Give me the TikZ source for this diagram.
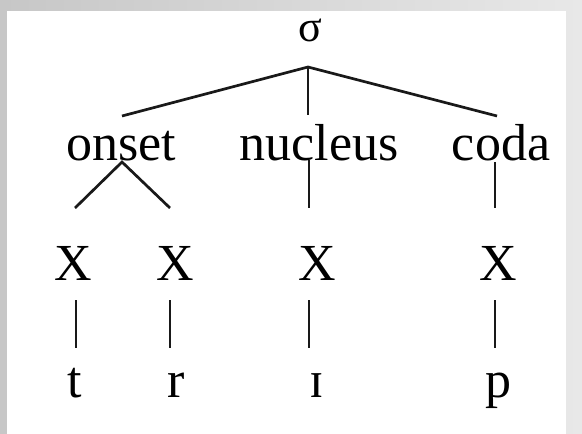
\documentclass[tikz,border=0pt]{standalone}
\usepackage{fontspec}
\newfontfamily\tms{Liberation Serif}
\begin{document}
\begin{tikzpicture}[x=1pt,y=-1pt,
  lbl/.style={anchor=base,inner sep=0pt,font=\tms\fontsize{52}{60}\selectfont},
  edge/.style={line width=2.7pt,draw=black!90}]
\useasboundingbox (0,0) rectangle (582,434);
\shade[left color=black!22,right color=black!9] (0,0) rectangle (582,434);
\fill[white] (7,11) rectangle (566,434);
% nodes
\node[lbl,font=\tms\fontsize{44}{50}\selectfont] (sig) at (310,41) {σ};
\node[lbl] (onset) at (121,160) {onset};
\node[lbl] (nucleus) at (319,160) {nucleus};
\node[lbl] (coda) at (501,160) {coda};
\node[lbl] (x1) at (73,280) {X};
\node[lbl] (x2) at (175,280) {X};
\node[lbl] (x3) at (317,280) {X};
\node[lbl] (x4) at (498,280) {X};
\node[lbl] (t) at (75,397) {t};
\node[lbl] (r) at (176,397) {r};
\node[lbl] (i) at (317,397) {ɪ};
\node[lbl] (p) at (498,397) {p};
% connector endpoints
\coordinate (top) at (308,67);
\coordinate (onsetT) at (122,116);
\coordinate (nucT) at (308,115);
\coordinate (codaT) at (497,116);
\coordinate (apex) at (122,162);
\coordinate (o1) at (75,208);
\coordinate (o2) at (170,208);
\coordinate (nucB) at (309,160);
\coordinate (nucE) at (309,208);
\coordinate (codaB) at (495,162);
\coordinate (codaE) at (495,208);
\foreach \n/\xx in {a/76,b/170,c/309,d/495}{
  \coordinate (\n1) at (\xx,300);
  \coordinate (\n2) at (\xx,348);
}
\draw[edge] (onsetT) -- (top) -- (codaT);
\draw[edge] (top) -- (nucT);
\draw[edge] (o1) -- (apex) -- (o2);
\draw[edge] (nucB) -- (nucE);
\draw[edge] (codaB) -- (codaE);
\foreach \n in {a,b,c,d}{\draw[edge] (\n1) -- (\n2);}
\end{tikzpicture}
\end{document}
